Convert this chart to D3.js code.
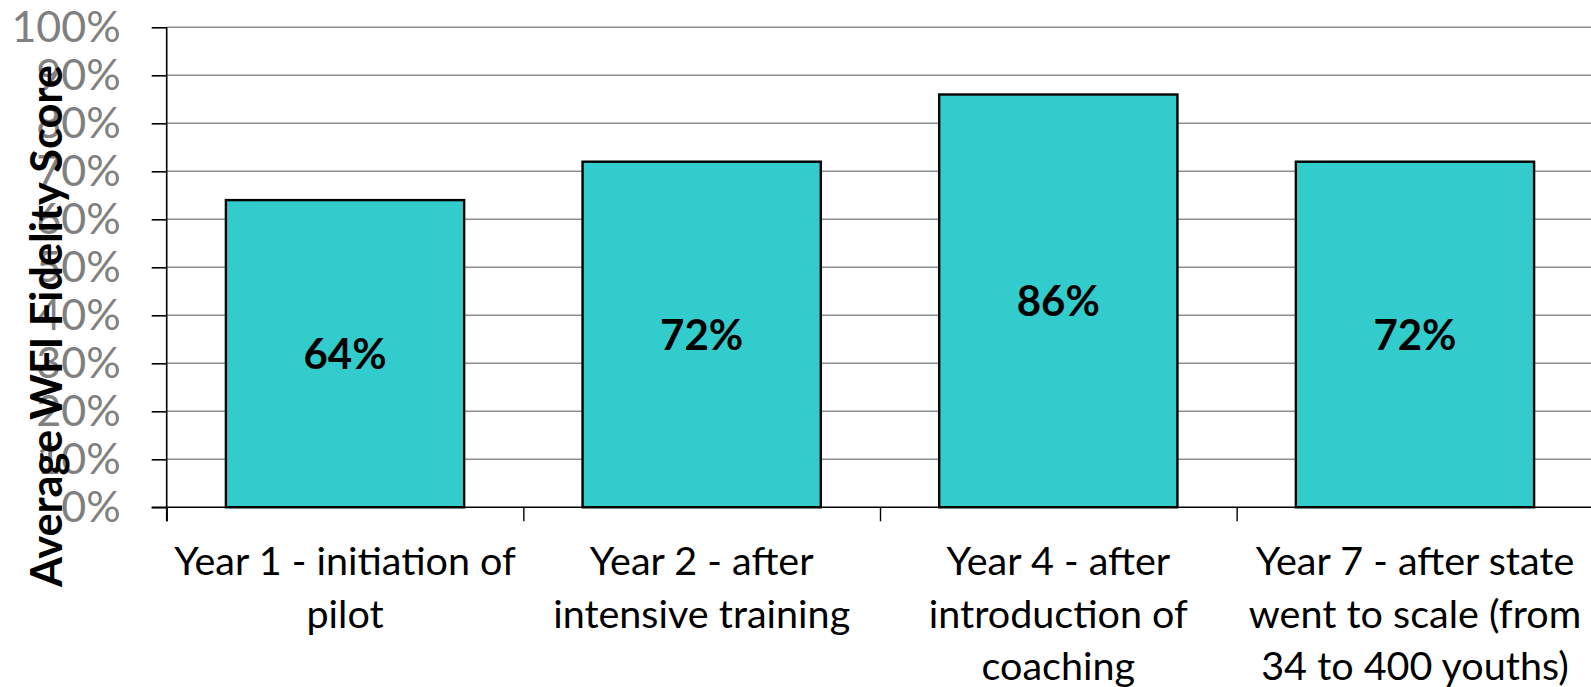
<!DOCTYPE html>
<html lang="en">
<head>
  <meta charset="UTF-8">
  <title>WFI Fidelity</title>
  <script src="https://d3js.org/d3.v7.min.js"></script>
  <style>
    body { margin: 0; background: #fff; }
    text { font-family: Lato, "Open Sans", sans-serif; }
  </style>
</head>
<body>
  <svg id="svg1"></svg>
  <script type="module">
    const categories = ["Year 1", "Year 2", "Year 4", "Year 7"];
    const labelLines = [
      ["Year 1 - initiation of", "pilot"],
      ["Year 2 - after", "intensive training"],
      ["Year 4 - after", "introduction of", "coaching"],
      ["Year 7 - after state", "went to scale (from", "34 to 400 youths)"]
    ];
    const scores = [64, 72, 86, 72];
    const yTicks = [0, 10, 20, 30, 40, 50, 60, 70, 80, 90, 100];
    const yTitle = "Average WFI Fidelity Score";

    const width = 1591, height = 687;
    const margin = {top: 27.3, left: 166.7, bottom: 507.3, right: 1593.3};

    const svg = d3.select('#svg1')
      .attr('width', width)
      .attr('height', height);

    const xScale = d3.scaleBand()
      .domain(categories)
      .range([margin.left, margin.right])
      .paddingInner(0.332)
      .paddingOuter(0.166);

    const xEdges = d3.scaleLinear()
      .domain([0, categories.length])
      .range([margin.left, margin.right]);

    const yScale = d3.scaleLinear()
      .domain([0, 100])
      .range([margin.bottom, margin.top]);

    // gridlines
    svg.append('g')
      .selectAll('line')
      .data(yTicks.filter(d => d > 0))
      .enter()
      .append('line')
      .attr('x1', margin.left)
      .attr('x2', width)
      .attr('y1', d => yScale(d))
      .attr('y2', d => yScale(d))
      .attr('stroke', '#8c8c8c')
      .attr('stroke-width', 1.6);

    // y axis
    const leftAxis = d3.axisLeft(yScale)
      .tickValues(yTicks)
      .tickFormat(d => d + '%')
      .tickSize(15)
      .tickPadding(31);
    const yAxis = svg.append('g')
      .attr('transform', `translate(${margin.left}, 0)`)
      .call(leftAxis);
    yAxis.select('.domain').remove();
    yAxis.selectAll('.tick line').attr('stroke', '#000').attr('stroke-width', 1.6);
    yAxis.selectAll('.tick text')
      .attr('fill', '#808080')
      .attr('font-size', 43)
      .attr('font-family', 'Lato, sans-serif');
    svg.append('line')
      .attr('x1', margin.left).attr('x2', margin.left)
      .attr('y1', yScale(100)).attr('y2', margin.bottom + 14)
      .attr('stroke', '#000').attr('stroke-width', 1.6);

    // bars
    svg.append('g')
      .selectAll('rect')
      .data(scores)
      .enter()
      .append('rect')
      .attr('x', (d, i) => xScale(categories[i]))
      .attr('y', d => yScale(d))
      .attr('width', xScale.bandwidth())
      .attr('height', d => yScale(0) - yScale(d))
      .attr('fill', '#33CCCC')
      .attr('stroke', '#000')
      .attr('stroke-width', 2.4);

    svg.append('g')
      .selectAll('text')
      .data(scores)
      .enter()
      .append('text')
      .attr('x', (d, i) => xScale(categories[i]) + xScale.bandwidth() / 2)
      .attr('y', d => (yScale(d) + yScale(0)) / 2)
      .attr('dy', '0.36em')
      .attr('text-anchor', 'middle')
      .attr('font-weight', 'bold')
      .attr('font-size', 42)
      .attr('fill', '#000')
      .text(d => d + '%');

    // x axis
    const bottomAxis = d3.axisBottom(xEdges)
      .tickValues(d3.range(categories.length + 1))
      .tickFormat('')
      .tickSize(14)
      .tickSizeOuter(0);
    const xAxis = svg.append('g')
      .attr('transform', `translate(0, ${margin.bottom})`)
      .call(bottomAxis);
    xAxis.select('.domain').remove();
    xAxis.selectAll('.tick line').attr('stroke', '#000').attr('stroke-width', 1.4);
    svg.append('line')
      .attr('x1', margin.left - 15).attr('x2', width)
      .attr('y1', margin.bottom).attr('y2', margin.bottom)
      .attr('stroke', '#000').attr('stroke-width', 1.6);

    const labelGroup = svg.append('g')
      .selectAll('text')
      .data(categories)
      .enter()
      .append('text')
      .attr('text-anchor', 'middle')
      .attr('font-size', 39.5)
      .attr('fill', '#000')
      .attr('transform', d => `translate(${xScale(d) + xScale.bandwidth() / 2}, 575)`);
    labelGroup.selectAll('tspan')
      .data((d, i) => labelLines[i])
      .enter()
      .append('tspan')
      .attr('x', 0)
      .attr('y', (d, j) => j * 52.5)
      .text(d => d);

    // y title, drawn on top of tick labels
    svg.append('text')
      .attr('transform', 'translate(62, 326) rotate(-90)')
      .attr('text-anchor', 'middle')
      .attr('font-weight', 'bold')
      .attr('font-size', 44)
      .attr('textLength', 522)
      .attr('lengthAdjust', 'spacingAndGlyphs')
      .attr('fill', '#000')
      .text(yTitle);
  </script>
</body>
</html>
